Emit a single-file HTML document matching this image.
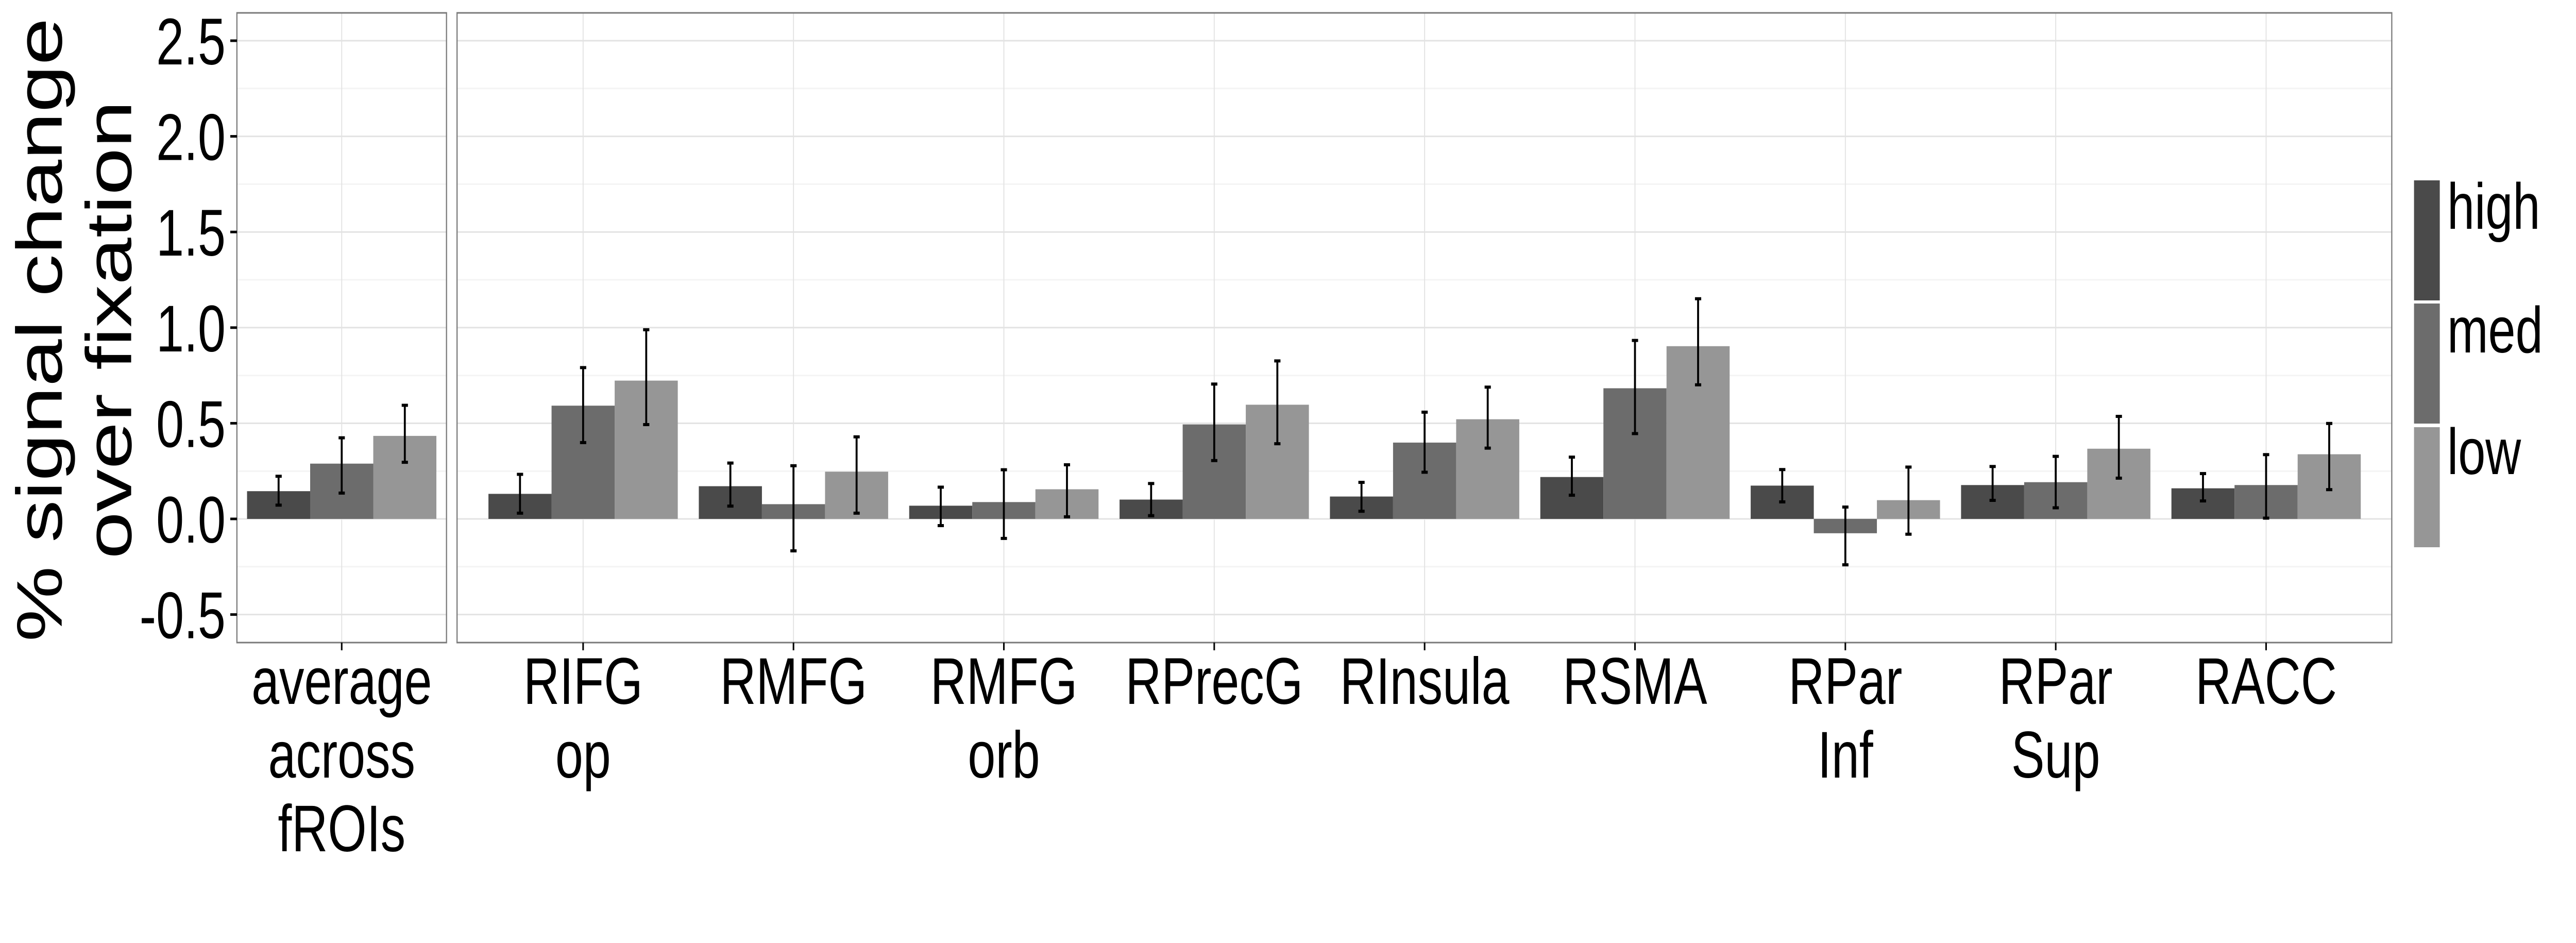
<!DOCTYPE html>
<html><head><meta charset="utf-8"><style>
html,body{margin:0;padding:0;background:#fff;width:100%;height:100%;overflow:hidden}
#chart{display:block;width:100vw;height:100vh}
svg text{font-family:"Liberation Sans",sans-serif;fill:#000}
</style></head><body>
<svg id="chart" viewBox="0 0 6600 1830" preserveAspectRatio="none" xmlns="http://www.w3.org/2000/svg"></svg>
<script>
const categories = ["average across fROIs","RIFG op","RMFG","RMFG orb","RPrecG","RInsula","RSMA","RPar Inf","RPar Sup","RACC"];
const labelLines = [["average","across","fROIs"],["RIFG","op"],["RMFG"],["RMFG","orb"],["RPrecG"],["RInsula"],["RSMA"],["RPar","Inf"],["RPar","Sup"],["RACC"]];
const seriesNames = ["high","med","low"];
const highVals = [0.145,0.131,0.171,0.069,0.101,0.117,0.219,0.174,0.177,0.160];
const highLo   = [0.072,0.030,0.067,-0.035,0.017,0.040,0.124,0.089,0.097,0.094];
const highHi   = [0.223,0.233,0.292,0.166,0.185,0.191,0.323,0.258,0.274,0.237];
const medVals  = [0.289,0.592,0.077,0.088,0.494,0.399,0.683,-0.075,0.192,0.177];
const medLo    = [0.135,0.399,-0.167,-0.102,0.305,0.244,0.446,-0.240,0.058,0.004];
const medHi    = [0.424,0.791,0.278,0.257,0.705,0.558,0.933,0.062,0.327,0.336];
const lowVals  = [0.434,0.723,0.247,0.155,0.597,0.521,0.903,0.098,0.367,0.338];
const lowLo    = [0.296,0.493,0.030,0.011,0.393,0.370,0.701,-0.080,0.213,0.153];
const lowHi    = [0.594,0.989,0.429,0.283,0.826,0.689,1.151,0.271,0.536,0.499];
const yTicks = [-0.5,0,0.5,1,1.5,2,2.5];
const yTickLabels = ["-0.5","0.0","0.5","1.0","1.5","2.0","2.5"];

const svg = document.getElementById('chart');
const NS = 'http://www.w3.org/2000/svg';
function mk(tag, attrs, parent){const e=document.createElementNS(NS,tag);for(const k in attrs)e.setAttribute(k,attrs[k]);(parent||svg).appendChild(e);return e;}

const topY=25, botY=1247;
const y = v => 1007 - v*371.2;
const unit = 539;
const panels = [{l:607,r:1144,cats:[0]},{l:1171,r:6128,cats:[1,2,3,4,5,6,7,8,9]}];
function xCenter(i){ return i===0 ? 875.5 : 1494 + (i-1)*unit; }
const colors = ["#4a4a4a","#6c6c6c","#969696"];
const vals=[highVals,medVals,lowVals], los=[highLo,medLo,lowLo], his=[highHi,medHi,lowHi];
const bw = unit*0.9/3;

panels.forEach((p,pi)=>{
  const g = mk('g',{});
  
  
  mk('rect',{x:p.l,y:topY,width:p.r-p.l,height:botY-topY,fill:'#fff'},g);
  for(let v=-0.75; v<=2.76; v+=0.5){ const yy=y(v); if(yy>topY&&yy<botY){
    const ln=mk('line',{x1:p.l,x2:p.r,y1:yy,y2:yy,stroke:'#f4f4f4','stroke-width':3},g);
    
    }}
  yTicks.forEach(v=>{ const ln=mk('line',{x1:p.l,x2:p.r,y1:y(v),y2:y(v),stroke:'#e3e3e3','stroke-width':3},g);
    
    });
  p.cats.forEach(i=>{ const ln=mk('line',{x1:xCenter(i),x2:xCenter(i),y1:topY,y2:botY,stroke:'#e3e3e3','stroke-width':2.5},g);
    
    });
  p.cats.forEach(i=>{
    for(let s=0;s<3;s++){
      const v=vals[s][i]; const x0=xCenter(i)-1.5*bw+s*bw;
      const r=mk('rect',{x:x0,y:Math.min(y(v),y(0)),width:bw,height:Math.abs(y(v)-y(0)),fill:colors[s]},g);
      
      
    }
  });
  p.cats.forEach(i=>{
    for(let s=0;s<3;s++){
      const cx=xCenter(i)-bw+s*bw;
      const eg=mk('g',{stroke:'#000','stroke-width':5},g);
      
      
      mk('line',{x1:cx,x2:cx,y1:y(his[s][i]),y2:y(los[s][i])},eg);
      mk('line',{x1:cx-8,x2:cx+8,y1:y(his[s][i]),y2:y(his[s][i]),'stroke-width':6},eg);
      mk('line',{x1:cx-8,x2:cx+8,y1:y(los[s][i]),y2:y(los[s][i]),'stroke-width':6},eg);
    }
  });
  const b=mk('rect',{x:p.l,y:topY,width:p.r-p.l,height:botY-topY,fill:'none',stroke:'#7a7a7a','stroke-width':3},g);
  
  
  p.cats.forEach(i=>{
    const t=mk('line',{x1:xCenter(i),x2:xCenter(i),y1:botY,y2:botY+15,stroke:'#000','stroke-width':4},g);
    
    
    const tx=mk('text',{x:xCenter(i),y:1366,'text-anchor':'middle','font-size':128},g);
    
    
    labelLines[i].forEach((ln,k)=>{ const ts=mk('tspan',{x:xCenter(i),y:1366+k*143},tx); ts.textContent=ln; });
  });
});

yTicks.forEach((v,k)=>{
  const t=mk('line',{x1:590,x2:607,y1:y(v),y2:y(v),stroke:'#000','stroke-width':5});
  
  
  const tx=mk('text',{x:578,y:y(v)+46,'text-anchor':'end','font-size':128});
  
  
  tx.textContent=yTickLabels[k];
});
const yt=mk('text',{transform:'translate(158,640) rotate(-90)','text-anchor':'middle','font-size':165});


const t1=mk('tspan',{x:0,y:0},yt); t1.textContent='% signal change';
const t2=mk('tspan',{x:0,y:178},yt); t2.textContent='over fixation';

const legY=[350,589,829];
const legBase=[444,684,920];
seriesNames.forEach((n,s)=>{
  const lg=mk('g',{});
  
  
  mk('rect',{x:6185,y:legY[s],width:66,height:233,fill:colors[s]},lg);
  const tx=mk('text',{x:6270,y:legBase[s],'font-size':126},lg); tx.textContent=n;
});
</script>
</body></html>
